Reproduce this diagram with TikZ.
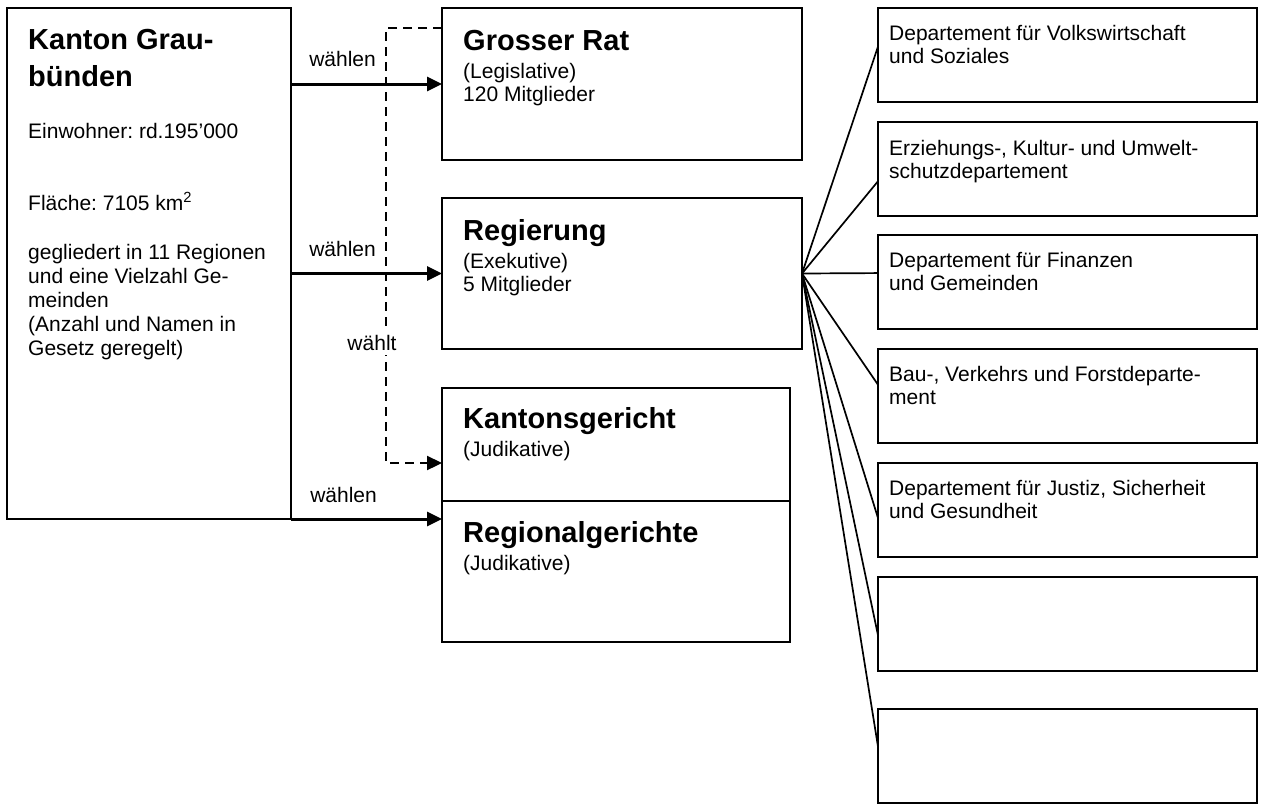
\documentclass[tikz,border=0pt]{standalone}
\usepackage{fontspec}
\setmainfont{Liberation Sans}
\usetikzlibrary{arrows.meta,calc}
\frenchspacing
\begin{document}
\begin{tikzpicture}[x=1pt,y=-1pt,
 box/.style={draw, line width=1.9pt, anchor=north west, inner sep=0pt, outer sep=0pt},
 txt/.style={anchor=base west, inner sep=0pt, font=\fontsize{21}{24}\selectfont},
 ttl/.style={anchor=base west, inner sep=0pt, font=\fontsize{29}{34}\selectfont\bfseries},
 arr/.style={line width=3pt, -{Triangle[length=15pt,width=14pt]}},
 darr/.style={line width=2.3pt, dash pattern=on 9pt off 6pt, -{Triangle[length=15pt,width=14pt]}},
 fan/.style={line width=1.7pt},
 lbl/.style={inner xsep=1pt, inner ysep=0pt, font=\fontsize{21}{24}\selectfont}]
\useasboundingbox (0,0) rectangle (1264,804);
\fill[white] (0,0) rectangle (1264,804);

% boxes
\node[box, minimum width=284pt, minimum height=511pt] (kanton) at (7,8) {};
\node[box, minimum width=360pt, minimum height=152pt] (gr) at (442,8) {};
\node[box, minimum width=360pt, minimum height=151pt] (reg) at (442,198) {};
\node[box, minimum width=348pt, minimum height=113pt] (kg) at (442,388) {};
\node[box, minimum width=348pt, minimum height=141pt] (rg) at (442,501) {};
\foreach \i/\t in {1/8,2/122,3/235,4/349,5/463,6/577,7/709}
  \node[box, minimum width=379pt, minimum height=94pt] (d\i) at (878,\t) {};

% Kanton text
\node[ttl] (k1) at (28,49) {Kanton Grau-};
\node[ttl] (k2) at (28,86) {bünden};
\node[txt] (k3) at (28,138) {Einwohner: rd.195’000};
\node[txt] (k4) at (28,210) {Fläche: 7105 km\textsuperscript{2}};
\node[txt] (k5) at (28,259) {gegliedert in 11 Regionen};
\node[txt] (k6) at (28,283) {und eine Vielzahl Ge-};
\node[txt] (k7) at (28,307) {meinden};
\node[txt] (k8) at (28,331) {(Anzahl und Namen in};
\node[txt] (k9) at (28,355) {Gesetz geregelt)};

% middle texts
\node[ttl] (g1) at (463,50) {Grosser Rat};
\node[txt] (g2) at (463,78) {(Legislative)};
\node[txt] (g3) at (463,101) {120 Mitglieder};
\node[ttl] (r1) at (463,240) {Regierung};
\node[txt] (r2) at (463,268) {(Exekutive)};
\node[txt] (r3) at (463,291) {5 Mitglieder};
\node[ttl] (kg1) at (463,428) {Kantonsgericht};
\node[txt] (kg2) at (463,456) {(Judikative)};
\node[ttl] (rg1) at (463,542) {Regionalgerichte};
\node[txt] (rg2) at (463,570) {(Judikative)};

% department texts
\node[txt] (e1a) at (889,40) {Departement für Volkswirtschaft};
\node[txt] (e1b) at (889,63) {und Soziales};
\node[txt] (e2a) at (889,155) {Erziehungs-, Kultur- und Umwelt-};
\node[txt] (e2b) at (889,178) {schutzdepartement};
\node[txt] (e3a) at (889,267) {Departement für Finanzen};
\node[txt] (e3b) at (889,290) {und Gemeinden};
\node[txt] (e4a) at (889,381) {Bau-, Verkehrs und Forstdeparte-};
\node[txt] (e4b) at (889,404) {ment};
\node[txt] (e5a) at (889,495) {Departement für Justiz, Sicherheit};
\node[txt] (e5b) at (889,518) {und Gesundheit};

% arrows
\draw[arr] (kanton.east |- gr.west) -- (gr.west);
\draw[arr] (kanton.east |- reg.west) -- (reg.west);
\coordinate (rgin) at ($(rg.north west)+(0,18)$);
\draw[arr] (kanton.east |- rgin) -- (rgin);
\node[lbl, anchor=base east] (w1) at (377,66) {wählen};
\node[lbl, anchor=base east] (w2) at (377,256) {wählen};
\node[lbl, anchor=base east] (w3) at (378,502) {wählen};

% dashed
\coordinate (grin) at ($(gr.north west)+(0,20)$);
\coordinate (kgin) at ($(kg.north west)+(0,75)$);
\draw[darr] (grin) -- ++(-56,0) |- (kgin);
\node[lbl, fill=white, anchor=base, inner ysep=5pt] (wt) at (372,350) {wählt};

% fan
\foreach \i/\f in {1/0.41,2/0.63,3/0.405,4/0.38,5/0.585,6/0.62,7/0.40}
  \draw[fan] (reg.east) -- ($(d\i.north west)!\f!(d\i.south west)$);
\end{tikzpicture}
\end{document}
